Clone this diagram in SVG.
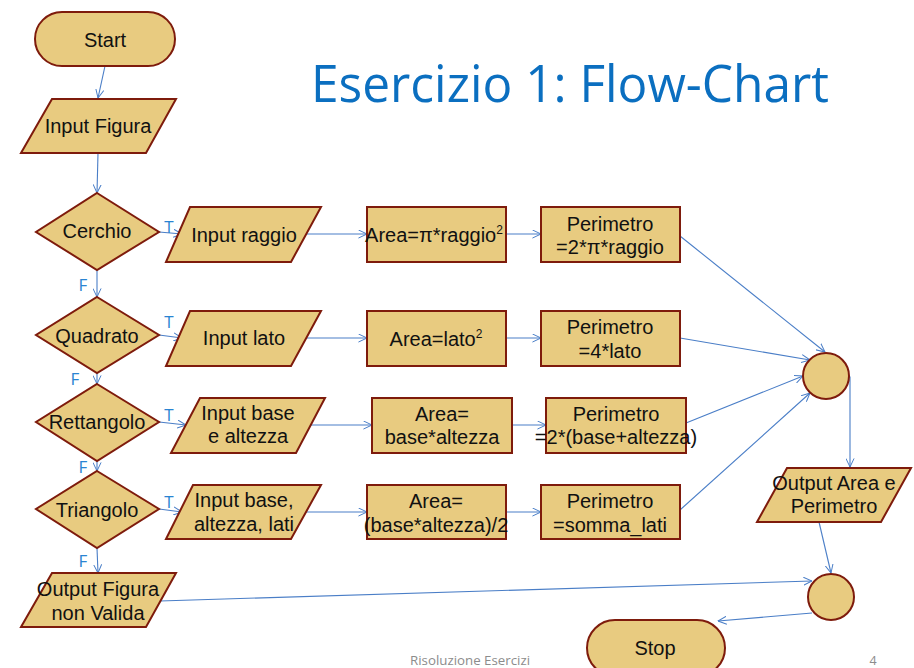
<svg xmlns="http://www.w3.org/2000/svg" width="914" height="668" viewBox="0 0 914 668">
<defs>
<marker id="arr" viewBox="0 0 10 10" refX="9.5" refY="5" markerWidth="9" markerHeight="9" markerUnits="userSpaceOnUse" orient="auto">
<path d="M0,0.5 L9.5,5 L0,9.5" fill="none" stroke="#4A7EC7" stroke-width="1.1"/>
</marker>
</defs>
<style>
.n{fill:#E8CB80;stroke:#7E1B0C;stroke-width:2}
.t{font-family:"Liberation Sans",Arial,sans-serif;font-size:20px;fill:#111;text-anchor:middle}
.c{fill:none;stroke:#4A7EC7;stroke-width:1.1;marker-end:url(#arr)}
.l{font-family:"Open Sans","Liberation Sans",sans-serif;font-size:17px;fill:#2A84D2;text-anchor:middle}
</style>
<rect width="914" height="668" fill="#fff"/>
<text x="570" y="102" font-family="'Open Sans','Liberation Sans',sans-serif" font-size="52" fill="#0B6FC0" text-anchor="middle" textLength="518" lengthAdjust="spacingAndGlyphs">Esercizio 1: Flow-Chart</text>
<g id="connectors">
<line class="c" x1="105" y1="66" x2="98" y2="98"/>
<line class="c" x1="98" y1="153" x2="97" y2="193"/>
<line class="c" x1="97" y1="270" x2="97" y2="297"/>
<line class="c" x1="97" y1="373" x2="97" y2="384"/>
<line class="c" x1="97" y1="461" x2="97" y2="471"/>
<line class="c" x1="97" y1="548" x2="98" y2="573"/>
<line class="c" x1="159" y1="232" x2="182" y2="234"/>
<line class="c" x1="159" y1="335" x2="182" y2="338"/>
<line class="c" x1="159" y1="422" x2="186" y2="425"/>
<line class="c" x1="159" y1="509" x2="182" y2="512"/>
<line class="c" x1="303" y1="234" x2="367" y2="234"/>
<line class="c" x1="506" y1="234" x2="541" y2="234"/>
<line class="c" x1="305" y1="338" x2="367" y2="338"/>
<line class="c" x1="506" y1="338" x2="541" y2="338"/>
<line class="c" x1="310" y1="425" x2="372" y2="425"/>
<line class="c" x1="512" y1="425" x2="546" y2="425"/>
<line class="c" x1="305" y1="512" x2="367" y2="512"/>
<line class="c" x1="506" y1="512" x2="541" y2="512"/>
<line class="c" x1="680" y1="236" x2="825" y2="352"/>
<line class="c" x1="680" y1="338" x2="810" y2="360"/>
<line class="c" x1="686" y1="423" x2="803" y2="376"/>
<line class="c" x1="680" y1="510" x2="810" y2="393"/>
<polyline class="c" points="849,377 850,377 850,467"/>
<line class="c" x1="819" y1="522" x2="831" y2="573"/>
<line class="c" x1="160" y1="601" x2="812" y2="581"/>
<line class="c" x1="812" y1="613" x2="718" y2="621"/>
</g>
<g id="labels">
<text class="l" x="169" y="233">T</text>
<text class="l" x="169" y="328">T</text>
<text class="l" x="169" y="421">T</text>
<text class="l" x="169" y="508">T</text>
<text class="l" x="83" y="291">F</text>
<text class="l" x="75" y="385">F</text>
<text class="l" x="83" y="473">F</text>
<text class="l" x="83" y="567">F</text>
</g>
<g id="start"><rect class="n" x="35" y="12" width="140" height="54" rx="27"/><text class="t" x="105" y="47">Start</text></g>
<g id="input-figura"><polygon class="n" points="52,99 176,99 146,153 21,153"/><text class="t" x="98" y="133">Input Figura</text></g>
<g id="cerchio"><polygon class="n" points="97,193 159,232 97,270 36,232"/><text class="t" x="97" y="238">Cerchio</text></g>
<g id="quadrato"><polygon class="n" points="97,297 159,335 97,373 36,335"/><text class="t" x="97" y="343">Quadrato</text></g>
<g id="rettangolo"><polygon class="n" points="97,384 159,422 97,461 36,422"/><text class="t" x="97" y="429">Rettangolo</text></g>
<g id="triangolo"><polygon class="n" points="97,471 159,509 97,548 36,509"/><text class="t" x="97" y="517">Triangolo</text></g>
<g id="output-figura"><polygon class="n" points="52,573 176,573 146,627 21,627"/><text class="t" x="98" y="596">Output Figura</text><text class="t" x="98" y="620">non Valida</text></g>
<g id="input-raggio"><polygon class="n" points="190,207 321,207 291,262 166,262"/><text class="t" x="244" y="242">Input raggio</text></g>
<g id="input-lato"><polygon class="n" points="190,311 321,311 291,366 166,366"/><text class="t" x="244" y="345">Input lato</text></g>
<g id="input-base-altezza"><polygon class="n" points="200,398 325,398 296,453 171,453"/><text class="t" x="248" y="420">Input base</text><text class="t" x="248" y="443">e altezza</text></g>
<g id="input-base-altezza-lati"><polygon class="n" points="193,485 321,485 291,539 166,539"/><text class="t" x="244" y="507">Input base,</text><text class="t" x="244" y="531">altezza, lati</text></g>
<g id="area-cerchio"><rect class="n" x="367" y="207" width="139" height="55"/><text class="t" x="434" y="242">Area=π*raggio<tspan font-size="12" dy="-8">2</tspan></text></g>
<g id="perimetro-cerchio"><rect class="n" x="541" y="207" width="139" height="55"/><text class="t" x="610" y="231">Perimetro</text><text class="t" x="610" y="254">=2*π*raggio</text></g>
<g id="area-quadrato"><rect class="n" x="367" y="311" width="139" height="55"/><text class="t" x="436" y="346">Area=lato<tspan font-size="12" dy="-8">2</tspan></text></g>
<g id="perimetro-quadrato"><rect class="n" x="541" y="311" width="139" height="55"/><text class="t" x="610" y="334">Perimetro</text><text class="t" x="610" y="358">=4*lato</text></g>
<g id="area-rettangolo"><rect class="n" x="372" y="398" width="140" height="55"/><text class="t" x="442" y="421">Area=</text><text class="t" x="442" y="444">base*altezza</text></g>
<g id="perimetro-rettangolo"><rect class="n" x="546" y="398" width="140" height="55"/><text class="t" x="616" y="421">Perimetro</text><text class="t" x="616" y="444">=2*(base+altezza)</text></g>
<g id="area-triangolo"><rect class="n" x="367" y="485" width="139" height="54"/><text class="t" x="436" y="508">Area=</text><text class="t" x="436" y="532">(base*altezza)/2</text></g>
<g id="perimetro-triangolo"><rect class="n" x="541" y="485" width="139" height="54"/><text class="t" x="610" y="508">Perimetro</text><text class="t" x="610" y="532">=somma_lati</text></g>
<g id="join1"><circle class="n" cx="826" cy="376" r="23"/></g>
<g id="output-area"><polygon class="n" points="787,468 911,468 881,522 757,522"/><text class="t" x="834" y="490">Output Area e</text><text class="t" x="834" y="513">Perimetro</text></g>
<g id="join2"><circle class="n" cx="831" cy="597" r="23"/></g>
<g id="stop"><rect class="n" x="587" y="620" width="138" height="56" rx="28"/><text class="t" x="655" y="655">Stop</text></g>
<text x="470" y="665" font-family="'Open Sans','Liberation Sans',sans-serif" font-size="12.5" fill="#8C8C8C" text-anchor="middle" textLength="120" lengthAdjust="spacingAndGlyphs">Risoluzione Esercizi</text>
<text x="873" y="665" font-family="'Open Sans','Liberation Sans',sans-serif" font-size="12.5" fill="#8C8C8C" text-anchor="middle">4</text>
</svg>
